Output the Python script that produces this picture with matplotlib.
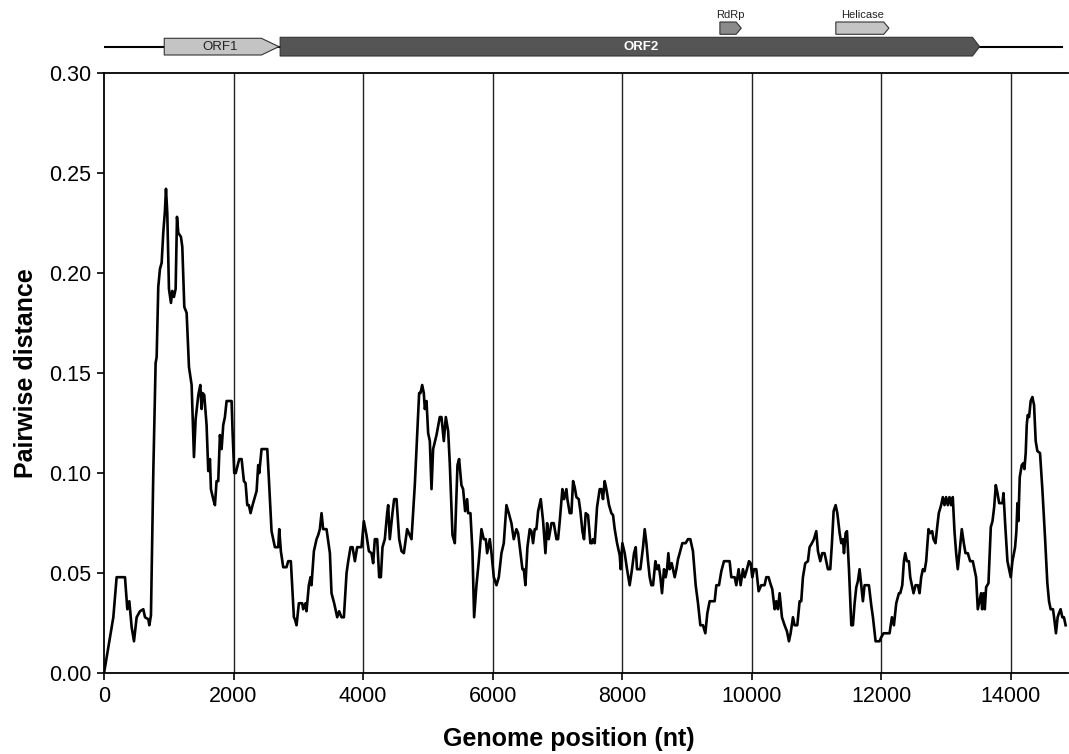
import matplotlib
matplotlib.use("Agg")
import matplotlib.pyplot as plt
from matplotlib.patches import Polygon
import numpy as np

plt.rcParams["font.family"] = ["Liberation Sans", "DejaVu Sans"]

# sliding-window pairwise distance along the genome
position = [
    0, 144, 195, 324, 360, 391, 427, 463, 504, 556, 607, 633, 684, 700, 725,
    761, 797, 813, 838, 864, 890, 915, 941, 957, 977, 1003, 1034, 1054, 1080,
    1106, 1127, 1147, 1188, 1209, 1240, 1276, 1312, 1353, 1389, 1415, 1456,
    1487, 1507, 1523, 1548, 1584, 1610, 1636, 1651, 1687, 1713, 1738, 1764,
    1790, 1816, 1841, 1867, 1893, 1970, 1986, 2011, 2034, 2088, 2125, 2160,
    2186, 2212, 2237, 2263, 2294, 2320, 2356, 2381, 2397, 2433, 2521, 2546,
    2587, 2639, 2690, 2706, 2731, 2767, 2818, 2844, 2885, 2932, 2948, 2973,
    3009, 3060, 3076, 3112, 3127, 3163, 3189, 3204, 3241, 3282, 3307, 3333,
    3359, 3384, 3436, 3488, 3513, 3554, 3601, 3631, 3667, 3704, 3745, 3771,
    3807, 3838, 3874, 3909, 3976, 4012, 4053, 4090, 4130, 4156, 4182, 4218,
    4249, 4275, 4300, 4336, 4372, 4388, 4413, 4454, 4480,
    4517, 4558, 4594, 4630, 4681, 4722, 4748, 4799, 4866, 4887, 4913, 4938,
    4954, 4980, 5005, 5031, 5057, 5082, 5134, 5185, 5211, 5247, 5278, 5314,
    5339, 5381, 5417, 5458, 5483, 5519, 5545, 5576, 5607, 5622, 5658, 5689,
    5715, 5751, 5787, 5828, 5864, 5895, 5916, 5957, 5983, 6019, 6060, 6096,
    6137, 6173, 6214, 6250, 6291, 6327, 6368, 6394, 6420, 6461, 6482, 6507,
    6538, 6574, 6600, 6625, 6651, 6677, 6703, 6744, 6780, 6816, 6842, 6867,
    6909, 6945, 6986, 7011, 7037, 7078, 7104, 7140, 7155, 7191, 7217, 7243,
    7268, 7294, 7330, 7356, 7387, 7412, 7438, 7474, 7510, 7535, 7551, 7577,
    7613, 7654, 7680, 7705, 7731, 7757, 7798, 7834, 7860, 7886, 7922, 7963,
    7978, 8004, 8040, 8076, 8117, 8153, 8184, 8210, 8230, 8282, 8323, 8349,
    8375, 8400, 8426, 8452, 8478, 8514, 8539, 8565, 8591, 8616, 8647, 8673,
    8694, 8714, 8735, 8766, 8786, 8812, 8838, 8863,
    8889, 8930, 8981, 9017, 9053, 9094, 9136, 9172, 9208, 9249, 9285, 9316,
    9352, 9429, 9455, 9496, 9532, 9573, 9660, 9686, 9738, 9763, 9799, 9830,
    9866, 9892, 9928, 9959, 9985, 10010, 10036, 10072, 10108, 10149, 10200,
    10226, 10262, 10288, 10319, 10355, 10380, 10406, 10432, 10468, 10509,
    10545, 10576, 10602, 10638, 10663, 10705, 10741, 10766, 10792, 10828,
    10869, 10895, 10931, 10962, 10998, 11024, 11060, 11090, 11126, 11152,
    11178, 11214, 11240, 11266, 11297, 11323, 11359, 11384, 11410, 11426,
    11451, 11472, 11503, 11539, 11564, 11590, 11616, 11641, 11667, 11693,
    11718, 11744, 11811, 11847, 11873, 11914, 11975, 12001, 12037, 12130,
    12166, 12197, 12233, 12274, 12295, 12326, 12351, 12372, 12397, 12428,
    12449, 12475, 12500, 12531, 12567, 12593, 12618, 12644, 12670, 12695,
    12731, 12757, 12788, 12808, 12839, 12865, 12890, 12926, 12952, 12978,
    13003, 13029, 13055, 13080, 13106, 13132, 13158, 13183, 13209, 13245,
    13276, 13302, 13338, 13374, 13415, 13441, 13466, 13492, 13518, 13543,
    13559, 13580, 13600, 13621, 13657, 13693, 13719, 13745, 13770, 13796,
    13822, 13873, 13889, 13914, 13950, 13976, 14001, 14027, 14068, 14088,
    14104, 14119, 14140, 14171, 14196, 14212, 14232, 14248, 14263, 14284,
    14309, 14335, 14361, 14386, 14412, 14453, 14489, 14530, 14566, 14592,
    14617, 14653, 14674, 14699, 14725, 14745, 14771, 14797, 14822, 14848,
]
distance = [
    0.000, 0.028, 0.048, 0.048, 0.032, 0.036, 0.023, 0.016, 0.028, 0.031,
    0.032, 0.028, 0.027, 0.024, 0.029, 0.100, 0.155, 0.158, 0.193, 0.202,
    0.205, 0.220, 0.231, 0.242, 0.230, 0.192, 0.185, 0.191, 0.188, 0.192,
    0.228, 0.220, 0.218, 0.213, 0.183, 0.180, 0.153, 0.144, 0.108, 0.127,
    0.139, 0.144, 0.132, 0.140, 0.139, 0.124, 0.101, 0.107, 0.092, 0.087,
    0.084, 0.096, 0.096, 0.119, 0.112, 0.124, 0.128, 0.136, 0.136, 0.120,
    0.100, 0.100, 0.107, 0.107, 0.096, 0.095, 0.084, 0.084, 0.080, 0.084,
    0.087, 0.091, 0.104, 0.100, 0.112, 0.112, 0.097, 0.071, 0.063, 0.063,
    0.072, 0.061, 0.053, 0.053, 0.056, 0.056, 0.028, 0.027, 0.024, 0.035,
    0.035, 0.032, 0.035, 0.031, 0.044, 0.048, 0.044, 0.061, 0.067, 0.069,
    0.072, 0.080, 0.072, 0.072, 0.060, 0.040, 0.035, 0.028, 0.031, 0.028,
    0.028, 0.050, 0.056, 0.063, 0.063, 0.056, 0.063, 0.063, 0.076, 0.069,
    0.061, 0.060, 0.055, 0.067, 0.067, 0.048, 0.048, 0.063, 0.067, 0.080,
    0.084, 0.067, 0.080, 0.087,
    0.087, 0.067, 0.061, 0.060, 0.072, 0.069, 0.067, 0.094, 0.140, 0.140,
    0.144, 0.140, 0.132, 0.136, 0.120, 0.116, 0.092, 0.112, 0.119, 0.128,
    0.128, 0.116, 0.128, 0.121, 0.105, 0.069, 0.065, 0.104, 0.107, 0.094,
    0.092, 0.081, 0.087, 0.080, 0.080, 0.061, 0.028, 0.044, 0.056, 0.072,
    0.067, 0.067, 0.060, 0.067, 0.060, 0.048, 0.044, 0.048, 0.060, 0.065,
    0.084, 0.080, 0.075, 0.067, 0.072, 0.070, 0.063, 0.052, 0.052, 0.044,
    0.063, 0.072, 0.071, 0.065, 0.072, 0.072, 0.081, 0.087, 0.076, 0.060,
    0.075, 0.067, 0.075, 0.075, 0.067, 0.067, 0.076, 0.092, 0.087, 0.092,
    0.087, 0.080, 0.080, 0.096, 0.093, 0.088, 0.087, 0.081, 0.071, 0.067,
    0.080, 0.079, 0.065, 0.065, 0.067, 0.065, 0.083, 0.092, 0.092, 0.087,
    0.096, 0.092, 0.084, 0.080, 0.079, 0.072, 0.065, 0.059, 0.052, 0.065,
    0.060, 0.052, 0.044, 0.052, 0.060, 0.063, 0.052, 0.052, 0.063, 0.072,
    0.065, 0.056, 0.048, 0.044, 0.044, 0.056, 0.052, 0.054, 0.048, 0.040,
    0.052, 0.048, 0.052, 0.060, 0.052, 0.055, 0.052, 0.048, 0.052, 0.057,
    0.060, 0.065, 0.065, 0.067, 0.067, 0.061, 0.044, 0.035, 0.024, 0.024,
    0.020, 0.030, 0.036, 0.036, 0.044, 0.044, 0.051, 0.056, 0.056, 0.048,
    0.048, 0.044, 0.052, 0.044, 0.052, 0.048, 0.052, 0.056, 0.055, 0.048,
    0.052, 0.052, 0.041, 0.044, 0.044, 0.048, 0.048, 0.045, 0.042, 0.032,
    0.036, 0.032, 0.040, 0.028, 0.024, 0.021, 0.016, 0.020, 0.028, 0.024,
    0.024, 0.036, 0.036, 0.048, 0.055, 0.056, 0.063, 0.065, 0.067, 0.071,
    0.061, 0.056, 0.060, 0.060, 0.056, 0.052, 0.052, 0.065, 0.081, 0.084,
    0.080, 0.070, 0.065, 0.067, 0.060, 0.070, 0.071, 0.052, 0.024, 0.024,
    0.035, 0.043, 0.046, 0.052, 0.044, 0.036, 0.044, 0.044, 0.034, 0.028,
    0.016, 0.016, 0.018, 0.020, 0.020, 0.028, 0.024, 0.035, 0.040, 0.040,
    0.044, 0.056, 0.060, 0.056, 0.056, 0.048, 0.044, 0.040, 0.044, 0.044,
    0.040, 0.048, 0.052, 0.051, 0.056, 0.072, 0.070, 0.071, 0.067, 0.065,
    0.073, 0.080, 0.084, 0.088, 0.084, 0.088, 0.084, 0.088, 0.084, 0.088,
    0.071, 0.060, 0.052, 0.060, 0.072, 0.065, 0.060, 0.060, 0.056, 0.056,
    0.052, 0.048, 0.032, 0.036, 0.040, 0.032, 0.040, 0.032, 0.043, 0.045,
    0.073, 0.076, 0.083, 0.094, 0.090, 0.085, 0.085, 0.090, 0.075, 0.056,
    0.052, 0.048, 0.056, 0.063, 0.071, 0.085, 0.076, 0.098, 0.104, 0.105,
    0.102, 0.110, 0.124, 0.129, 0.128, 0.136, 0.138, 0.134, 0.116, 0.111,
    0.110, 0.092, 0.068, 0.045, 0.036, 0.032, 0.032, 0.027, 0.020, 0.028,
    0.030, 0.032, 0.028, 0.028, 0.024,
]

# genome map: (label, start, end, colour), start/end in nt
orf_names = ["ORF1", "ORF2"]
orf_start = [930, 2720]
orf_end = [2700, 13520]
domain_names = ["RdRp", "Helicase"]
domain_start = [9510, 11300]
domain_end = [9840, 12120]
genome_length = 14800

fig = plt.figure(figsize=(10.69, 7.54), dpi=100)
ax = fig.add_axes([104 / 1069, 1 - 673.3 / 754, 964 / 1069, 600.6 / 754])

for gx in range(2000, 14001, 2000):
    ax.axvline(gx, color="#222222", lw=1.0, zorder=1)
ax.plot(position, distance, color="black", lw=1.9, zorder=3)

ax.set_xlim(0, 14885)
ax.set_ylim(0, 0.30)
ax.set_xticks(range(0, 14001, 2000))
ax.set_yticks(np.arange(0, 0.301, 0.05))
ax.set_yticklabels(["%.2f" % v for v in np.arange(0, 0.301, 0.05)])
ax.spines["right"].set_visible(False)
for s in ["left", "bottom", "top"]:
    ax.spines[s].set_linewidth(1.3)
ax.tick_params(direction="out", length=5, width=1.2, labelsize=15.5, pad=4)
ax.set_xlabel("Genome position (nt)", fontsize=18, fontweight="bold", labelpad=14)
ax.xaxis.set_label_coords(0.482, -0.09)
ax.set_ylabel("Pairwise distance", fontsize=18, fontweight="bold", labelpad=8)

# genome organisation drawn above the plot
gax = fig.add_axes([104 / 1069, 1 - 62 / 754, 964 / 1069, 62 / 754])
gax.set_xlim(0, 14885)
gax.set_ylim(62, 0)
gax.axis("off")
gax.plot([0, genome_length], [46.7, 46.7], color="black", lw=1.5, zorder=1)

orf_colors = ["#c4c4c4", "#555555"]
orf_tip = [270, 110]
for name, s, e, c, tip in zip(orf_names, orf_start, orf_end, orf_colors, orf_tip):
    y0, y1 = (38.3, 55) if name == "ORF1" else (37.3, 56)
    ym = (y0 + y1) / 2
    pts = [(s, y0), (e - tip, y0), (e, ym), (e - tip, y1), (s, y1)]
    gax.add_patch(Polygon(pts, closed=True, fc=c, ec="#333333", lw=0.8,
                          joinstyle="round", zorder=2))
gax.text(1800, 46.5, "ORF1", ha="center", va="center", fontsize=9.5, color="#222222")
gax.text(8300, 46.5, "ORF2", ha="center", va="center", fontsize=9.5,
         fontweight="bold", color="white")

dom_colors = ["#8a8a8a", "#c4c4c4"]
for name, s, e, c in zip(domain_names, domain_start, domain_end, dom_colors):
    y0, y1 = 22, 34.3
    ym = (y0 + y1) / 2
    tip = 80
    pts = [(s, y0), (e - tip, y0), (e, ym), (e - tip, y1), (s, y1)]
    gax.add_patch(Polygon(pts, closed=True, fc=c, ec="#333333", lw=0.8, zorder=2))
    gax.text((s + e) / 2, 15.5, name, ha="center", va="center", fontsize=8,
             color="#222222")

fig.savefig("out.png", dpi=100)
